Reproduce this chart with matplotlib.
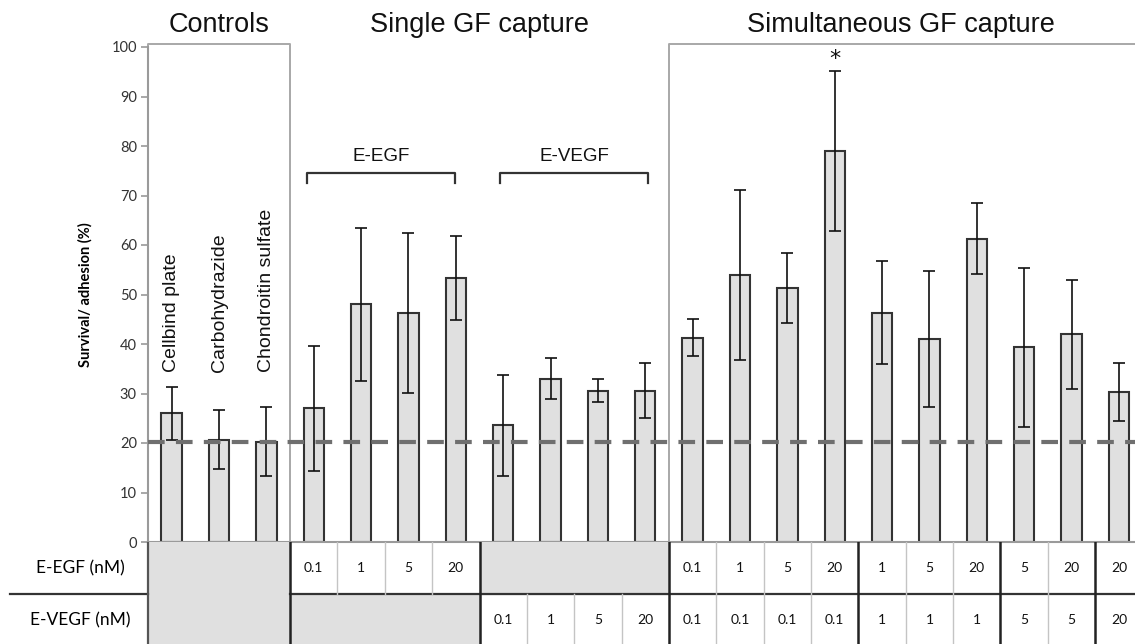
import matplotlib.pyplot as plt
from matplotlib.patches import Rectangle

# values (survival / adhesion, %)
control_labels = ['Cellbind plate', 'Carbohydrazide', 'Chondroitin sulfate']
egf_conc = ['', '', '', '0.1', '1', '5', '20', '', '', '', '',
            '0.1', '1', '5', '20', '1', '5', '20', '5', '20', '20']
vegf_conc = ['', '', '', '', '', '', '', '0.1', '1', '5', '20',
             '0.1', '0.1', '0.1', '0.1', '1', '1', '1', '5', '5', '20']
means = [26.0, 20.7, 20.3, 27.0, 48.0, 46.3, 53.3, 23.6, 33.0, 30.6, 30.6,
         41.3, 54.0, 51.3, 79.0, 46.3, 41.0, 61.3, 39.3, 42.0, 30.3]
errs = [5.3, 6.0, 7.0, 12.6, 15.5, 16.2, 8.5, 10.2, 4.2, 2.4, 5.5,
        3.7, 17.2, 7.0, 16.1, 10.4, 13.8, 7.1, 16.1, 11.0, 5.9]
baseline = 20.3
star_bar = 14

W, H = 1135, 644
x0_px, y0_px, ytop_px = 148, 542, 47
unit_px = 47.36
xmin = -0.5
xmax = xmin + (W - x0_px) / unit_px

fig = plt.figure(figsize=(W / 100, H / 100), dpi=100)
ax = fig.add_axes([x0_px / W, (H - y0_px) / H, 1 - x0_px / W, (y0_px - ytop_px) / H])

x = list(range(len(means)))
ax.bar(x, means, width=0.43, color='#e0e0e0', edgecolor='#333333', linewidth=1.5, zorder=2)
ax.errorbar(x, means, yerr=errs, fmt='none', ecolor='#111111', elinewidth=1.2,
            capsize=4.5, capthick=1.2, zorder=3)
ax.axhline(baseline, color='#6f6f6f', lw=3, dashes=(4, 2.7), zorder=4)

ax.set_xlim(xmin, xmax)
ax.set_ylim(0, 100)
ax.set_yticks(range(0, 101, 10))
ax.set_xticks([])
for s in ['top', 'right']:
    ax.spines[s].set_visible(False)
for s in ['left', 'bottom']:
    ax.spines[s].set_color('#9a9a9a')
    ax.spines[s].set_linewidth(1.5)
ax.tick_params(axis='y', length=5, color='#9a9a9a', width=1.2, labelsize=10.5,
               labelcolor='#333333', pad=3)
for t in ax.get_yticklabels():
    t.set_family('Lato')
ax.set_ylabel('Survival/ adhesion (%)', fontsize=10.5, fontweight='bold', family='Lato')
ax.yaxis.set_label_coords((93 - x0_px) / (W - x0_px), 0.5)

# group boxes
box_kw = dict(color='#a8a8a8', lw=1.4, clip_on=False, zorder=1)
ax.plot([xmin, xmin, 2.5, 2.5], [0, 100.6, 100.6, 0], **box_kw)
ax.plot([10.5, 10.5, xmax + 1], [0, 100.6, 100.6], **box_kw)

for i, lab in enumerate(control_labels):
    ax.text(i, 34.3, lab, rotation=90, ha='center', va='bottom', fontsize=14,
            family='Liberation Sans', color='#111111')

ax.text(star_bar, 95.6, '*', ha='center', va='bottom', fontsize=16, color='#111111')

# brackets
for (a, b, lab) in [(2.86, 5.98, 'E-EGF'), (6.93, 10.06, 'E-VEGF')]:
    ax.plot([a, a, b, b], [72.5, 74.6, 74.6, 72.5], color='#333333', lw=1.6)
    ax.text((a + b) / 2, 76.2, lab, ha='center', va='bottom', fontsize=13.5,
            family='Liberation Sans', color='#111111')

titles = [(1.0, 'Controls'), (6.5, 'Single GF capture'), (15.4, 'Simultaneous GF capture')]
for xc, t in titles:
    ax.text(xc, 1.0 + 22 / (y0_px - ytop_px), t, transform=ax.get_xaxis_transform(),
            ha='center', va='center', fontsize=19.5, family='Liberation Sans', color='#111111')

# table under the bars
tab = fig.add_axes([0, 0, 1, (H - y0_px) / H])
tab.set_xlim(xmin - x0_px / unit_px, xmax)
tab.set_ylim(0, H - y0_px)
tab.axis('off')
split = 50
top = H - y0_px
gray = '#e0e0e0'
tab.add_patch(Rectangle((-0.5, 0), 3, top, color=gray, zorder=0))
tab.add_patch(Rectangle((2.5, 0), 4, split, color=gray, zorder=0))
tab.add_patch(Rectangle((6.5, split), 4, top - split, color=gray, zorder=0))

tab.plot([xmin - 138 / unit_px, -0.5], [split, split], color='#333333', lw=1.6)
tab.plot([2.5, xmax], [split, split], color='#333333', lw=1.6)
tab.plot([-0.5, -0.5], [0, top], color='#555555', lw=1.6)
for xb in [3.5, 4.5, 5.5]:
    tab.plot([xb, xb], [split, top], color='#c4c4c4', lw=1.0)
for xb in [7.5, 8.5, 9.5]:
    tab.plot([xb, xb], [0, split], color='#c4c4c4', lw=1.0)
for xb in [11.5, 12.5, 13.5, 15.5, 16.5, 18.5]:
    tab.plot([xb, xb], [0, top], color='#c4c4c4', lw=1.0)
for xb in [2.5, 6.5, 10.5, 14.5, 17.5, 19.5]:
    tab.plot([xb, xb], [0, top], color='#222222', lw=1.8)

for i in x:
    if egf_conc[i]:
        tab.text(i, 76, egf_conc[i], ha='center', va='center', fontsize=10, family='Lato',
                 color='#111111')
    if vegf_conc[i]:
        tab.text(i, 24, vegf_conc[i], ha='center', va='center', fontsize=10, family='Lato',
                 color='#111111')

lab_x = xmin - (148 - 80) / unit_px
tab.text(lab_x, 76, 'E-EGF (nM)', ha='center', va='center', fontsize=12.5, family='Lato')
tab.text(lab_x, 24, 'E-VEGF (nM)', ha='center', va='center', fontsize=12.5, family='Lato')

fig.savefig('out.png', dpi=100)
